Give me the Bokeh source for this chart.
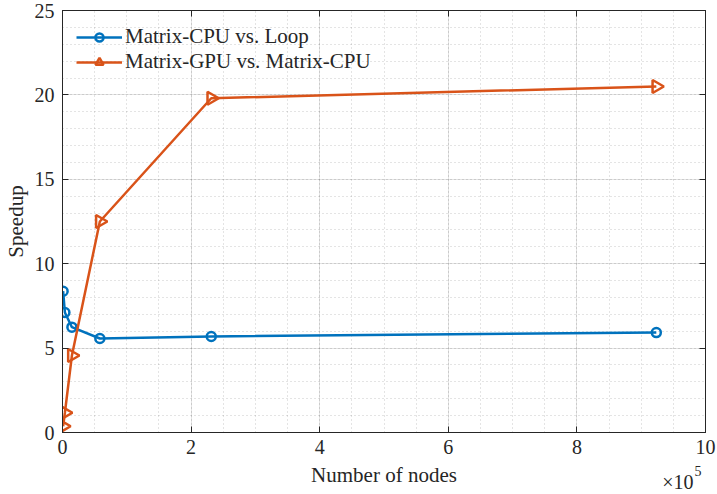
import numpy as np
from bokeh.plotting import figure
from bokeh.models import FixedTicker, LinearAxis, Range1d, Title, Legend, LegendItem
from bokeh.embed import file_html
from bokeh.resources import INLINE

# ---- data ----
nodes = [961, 3721, 14641, 58081, 231361, 923521]
cpu_vs_loop = [8.37, 7.11, 6.24, 5.57, 5.69, 5.92]
gpu_vs_cpu = [0.37, 1.17, 4.56, 12.5, 19.8, 20.5]
series_labels = ["Matrix-CPU vs. Loop", "Matrix-GPU vs. Matrix-CPU"]
x_ticks = [0, 200000, 400000, 600000, 800000, 1000000]
x_tick_labels = ["0", "2", "4", "6", "8", "10"]
x_minor = [i * 50000 for i in range(21)]
y_ticks = [0, 5, 10, 15, 20, 25]
y_minor = list(range(26))
x_exponent_base = "×10"
x_exponent = "5"

FONT = "Liberation Serif"
FS = "21px"
TFS = "20px"
AX = "#262626"
BLUE = "#0072BD"
ORANGE = "#D95319"

p = figure(width=717, height=494, output_backend="svg", toolbar_location=None,
           x_range=Range1d(0, 1000000), y_range=Range1d(0, 25),
           min_border_left=62, min_border_right=12, min_border_top=10, min_border_bottom=62)
p.background_fill_color = "white"
p.border_fill_color = "white"
p.outline_line_color = AX
p.outline_line_width = 1

p.xaxis.ticker = FixedTicker(ticks=x_ticks, minor_ticks=x_minor)
p.yaxis.ticker = FixedTicker(ticks=y_ticks, minor_ticks=y_minor)
p.xaxis.major_label_overrides = {t: l for t, l in zip(x_ticks, x_tick_labels)}

for ax in [p.xaxis[0], p.yaxis[0]]:
    ax.axis_line_color = AX
    ax.major_tick_line_color = AX
    ax.major_tick_in = 6
    ax.major_tick_out = 0
    ax.minor_tick_in = 0
    ax.minor_tick_out = 0
    ax.major_label_text_font = FONT
    ax.major_label_text_font_size = TFS
    ax.major_label_text_color = AX
    ax.axis_label_text_font = FONT
    ax.axis_label_text_font_size = FS
    ax.axis_label_text_color = AX
    ax.axis_label_text_font_style = "normal"

p.xaxis.axis_label = "Number of nodes"
p.yaxis.axis_label = "Speedup"
p.xaxis.major_label_standoff = 7
p.xaxis.axis_label_standoff = 6
p.yaxis.major_label_standoff = 8
p.yaxis.axis_label_standoff = 4

for g in [p.xgrid[0], p.ygrid[0]]:
    g.grid_line_color = AX
    g.grid_line_alpha = 0.13
    g.minor_grid_line_color = AX
    g.minor_grid_line_alpha = 0.25
    g.minor_grid_line_dash = "1 3"

# box ticks on top and right
for loc, tk, ticks in [("above", FixedTicker(ticks=x_ticks), x_ticks),
                       ("right", FixedTicker(ticks=y_ticks), y_ticks)]:
    ax = LinearAxis(ticker=tk, axis_line_color=AX, major_tick_line_color=AX,
                    major_tick_in=6, major_tick_out=0, minor_tick_in=0, minor_tick_out=0,
                    major_label_text_font_size="0px", major_label_standoff=0,
                    major_label_overrides={t: "" for t in ticks})
    p.add_layout(ax, loc)

l1 = p.line(nodes, cpu_vs_loop, line_color=BLUE, line_width=2.5)
s1 = p.scatter(nodes, cpu_vs_loop, marker="circle", size=9, line_color=BLUE,
               line_width=2.5, fill_alpha=0)
l2 = p.line(nodes, gpu_vs_cpu, line_color=ORANGE, line_width=2.5)
s2 = p.scatter(nodes, gpu_vs_cpu, marker="triangle", angle=-np.pi / 2, size=13,
               line_color=ORANGE, line_width=2.5, fill_alpha=0)

legend = Legend(items=[LegendItem(label=series_labels[0], renderers=[l1, s1]),
                       LegendItem(label=series_labels[1], renderers=[l2, s2])],
                location="top_left", glyph_width=46, glyph_height=20, label_standoff=3,
                spacing=-3, padding=14, margin=0, border_line_alpha=0,
                background_fill_alpha=0, label_text_font=FONT,
                label_text_font_size=FS, label_text_color=AX)
p.add_layout(legend)

# exponent note under the right end of the x axis (zero-height title panels)
p.add_layout(Title(text=x_exponent_base, align="right", vertical_align="top",
                   standoff=-37, offset=12, text_font=FONT, text_font_size=TFS,
                   text_color=AX, text_font_style="normal"), "below")
p.add_layout(Title(text=x_exponent, align="right", vertical_align="top",
                   standoff=-48, offset=4, text_font=FONT, text_font_size="14px",
                   text_color=AX, text_font_style="normal"), "below")

open("out.html", "w").write(file_html(p, INLINE))
